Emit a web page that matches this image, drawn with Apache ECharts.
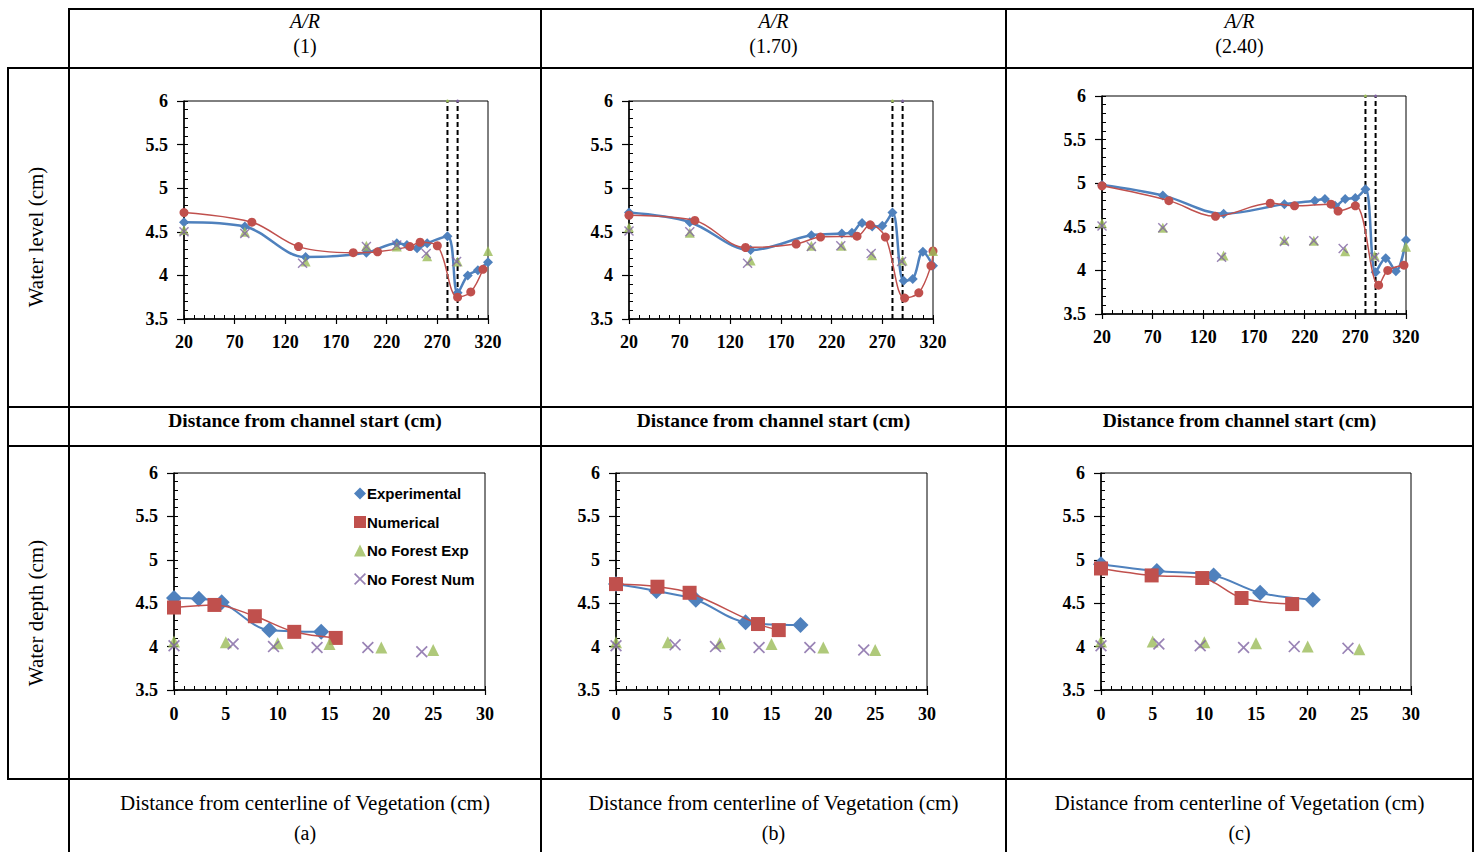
<!DOCTYPE html>
<html>
<head>
<meta charset="utf-8">
<script src="https://cdn.jsdelivr.net/npm/echarts@6/dist/echarts.min.js"></script>
<style>
  html, body { margin: 0; padding: 0; background: #fff; }
  #main { width: 1476px; height: 852px; }
</style>
</head>
<body>
<div id="main"></div>
<script>
// series names
const seriesNames = ['Experimental', 'Numerical', 'No Forest Exp', 'No Forest Num'];

// column headers
const headerTop = 'A/R';
const headerRatios = ['(1)', '(1.70)', '(2.40)'];
const panelTags = ['(a)', '(b)', '(c)'];

// vegetation edges (dashed lines) in top charts
const vegEdges = [280, 290];

// --- top row: water level vs distance from channel start ---
const expXa = [20, 80, 140, 200, 230, 240, 250, 260, 280, 290, 300, 310, 320];
const expYa = [4.61, 4.56, 4.21, 4.26, 4.37, 4.35, 4.31, 4.37, 4.45, 3.80, 4.00, 4.06, 4.15];
const numXa = [20, 87, 133, 187, 211, 243, 253, 270, 290, 303, 315];
const numYa = [4.72, 4.61, 4.33, 4.26, 4.27, 4.33, 4.38, 4.34, 3.75, 3.81, 4.07];
const nfeXa = [20, 80, 140, 200, 230, 260, 290, 320];
const nfeYa = [4.52, 4.50, 4.16, 4.34, 4.33, 4.22, 4.16, 4.28];
const nfnXa = [20, 80, 137, 200, 230, 259, 289];
const nfnYa = [4.50, 4.48, 4.14, 4.33, 4.35, 4.25, 4.16];

const expXb = [20, 80, 140, 200, 230, 240, 250, 260, 270, 280, 291, 300, 310, 320];
const expYb = [4.72, 4.61, 4.29, 4.46, 4.48, 4.49, 4.60, 4.56, 4.57, 4.72, 3.94, 3.96, 4.27, 4.11];
const numXb = [20, 85, 135, 185, 209, 245, 258, 273, 292, 306, 318, 320];
const numYb = [4.69, 4.63, 4.32, 4.36, 4.44, 4.45, 4.58, 4.44, 3.74, 3.80, 4.11, 4.28];
const nfeXb = [20, 80, 140, 200, 230, 260, 290, 320];
const nfeYb = [4.55, 4.49, 4.17, 4.34, 4.34, 4.23, 4.17, 4.28];
const nfnXb = [20, 80, 137, 200, 229, 259, 289];
const nfnYb = [4.51, 4.50, 4.14, 4.33, 4.34, 4.25, 4.16];

const expXc = [20, 80, 140, 200, 230, 240, 250, 260, 270, 280, 290, 300, 310, 320];
const expYc = [4.98, 4.86, 4.65, 4.76, 4.80, 4.82, 4.74, 4.82, 4.83, 4.93, 3.98, 4.14, 3.99, 4.35];
const numXc = [20, 86, 132, 186, 210, 246, 253, 270, 293, 302, 318];
const numYc = [4.97, 4.80, 4.62, 4.77, 4.74, 4.76, 4.68, 4.74, 3.83, 4.00, 4.06];
const nfeXc = [20, 80, 140, 200, 229, 260, 289, 320];
const nfeYc = [4.54, 4.49, 4.17, 4.35, 4.34, 4.22, 4.17, 4.27];
const nfnXc = [20, 80, 138, 200, 229, 258, 289];
const nfnYc = [4.51, 4.49, 4.15, 4.33, 4.34, 4.25, 4.15];

// --- bottom row: water depth vs distance from vegetation centerline ---
const expXd = [0, 2.4, 4.6, 9.2, 14.2];
const expYd = [4.56, 4.55, 4.51, 4.19, 4.17];
const numXd = [0, 3.9, 7.8, 11.6, 15.6];
const numYd = [4.45, 4.48, 4.35, 4.17, 4.10];
const nfeXd = [0, 5, 10, 15, 20, 25];
const nfeYd = [4.06, 4.05, 4.04, 4.03, 3.99, 3.96];
const nfnXd = [0, 5.7, 9.6, 13.8, 18.7, 23.9];
const nfnYd = [4.01, 4.03, 4.00, 3.99, 3.99, 3.94];

const expXe = [0, 3.9, 7.7, 12.5, 17.8];
const expYe = [4.72, 4.64, 4.54, 4.28, 4.25];
const numXe = [0, 4.0, 7.1, 13.7, 15.7];
const numYe = [4.72, 4.69, 4.62, 4.26, 4.19];
const nfeXe = [0, 5, 10, 15, 20, 25];
const nfeYe = [4.05, 4.05, 4.04, 4.03, 3.99, 3.96];
const nfnXe = [0, 5.7, 9.6, 13.8, 18.7, 23.9];
const nfnYe = [4.01, 4.02, 4.00, 3.99, 3.99, 3.96];

const expXf = [0, 5.4, 10.9, 15.4, 20.5];
const expYf = [4.95, 4.87, 4.82, 4.62, 4.54];
const numXf = [0, 4.9, 9.8, 13.6, 18.5];
const numYf = [4.90, 4.82, 4.79, 4.56, 4.49];
const nfeXf = [0, 5, 10, 15, 20, 25];
const nfeYf = [4.06, 4.06, 4.05, 4.04, 4.00, 3.97];
const nfnXf = [0, 5.6, 9.6, 13.8, 18.7, 23.9];
const nfnYf = [4.01, 4.03, 4.01, 3.99, 4.00, 3.98];

// ---------------------------------------------------------------
const BLUE = '#4f81bd', RED = '#c0504d', GREEN = '#9bbb59', PURPLE = '#8064a2';
const SERIF = '"Liberation Serif", "Times New Roman", serif';
const SANS = '"Liberation Sans", Arial, sans-serif';
const CROSS = 'path://M0,1L1,0L5,4L9,0L10,1L6,5L10,9L9,10L5,6L1,10L0,9L4,5Z';

const zip = (xs, ys) => xs.map((x, i) => [x, ys[i]]);

const panels = [
  { rect: [184, 101, 304, 218], top: true, d: [expXa, expYa, numXa, numYa, nfeXa, nfeYa, nfnXa, nfnYa] },
  { rect: [629, 101, 304, 218], top: true, d: [expXb, expYb, numXb, numYb, nfeXb, nfeYb, nfnXb, nfnYb] },
  { rect: [1102, 96, 304, 218], top: true, d: [expXc, expYc, numXc, numYc, nfeXc, nfeYc, nfnXc, nfnYc] },
  { rect: [174, 473, 311, 217], top: false, d: [expXd, expYd, numXd, numYd, nfeXd, nfeYd, nfnXd, nfnYd] },
  { rect: [616, 473, 311, 217], top: false, d: [expXe, expYe, numXe, numYe, nfeXe, nfeYe, nfnXe, nfnYe] },
  { rect: [1101, 473, 310, 217], top: false, d: [expXf, expYf, numXf, numYf, nfeXf, nfeYf, nfnXf, nfnYf] }
];

const grid = [], xAxis = [], yAxis = [], series = [];
const tickLabel = { color: '#000', fontFamily: SERIF, fontWeight: 'bold', fontSize: 18 };

panels.forEach((p, i) => {
  const [l, t, w, h] = p.rect;
  grid.push({ left: l, top: t, width: w, height: h, show: true, borderColor: '#000', borderWidth: 1 });
  const xMin = p.top ? 20 : 0, xMax = p.top ? 320 : 30;
  const xMaj = p.top ? 50 : 5, xMin2 = p.top ? 10 : 1;
  // major axes (labels, outside ticks)
  xAxis.push({
    type: 'value', gridIndex: i, min: xMin, max: xMax, interval: xMaj,
    axisLine: { lineStyle: { color: '#000', width: 1.5 } },
    axisTick: { length: 5, lineStyle: { color: '#000', width: 1.2 } },
    axisLabel: Object.assign({ margin: p.top ? 14 : 15 }, tickLabel),
    splitLine: { show: false }
  });
  yAxis.push({
    type: 'value', gridIndex: i, min: 3.5, max: 6, interval: 0.5,
    axisLine: { show: true, lineStyle: { color: '#000', width: 1.5 } },
    axisTick: { show: true, length: 7, lineStyle: { color: '#000', width: 1.2 } },
    axisLabel: Object.assign({ margin: 16 }, tickLabel),
    splitLine: { show: false }
  });
  // minor axes (inside ticks only)
  xAxis.push({
    type: 'value', gridIndex: i, min: xMin, max: xMax, interval: xMin2, position: 'bottom',
    axisLine: { show: false },
    axisTick: { inside: true, length: 4, lineStyle: { color: '#000', width: 1 } },
    axisLabel: { show: false }, splitLine: { show: false }
  });
  yAxis.push({
    type: 'value', gridIndex: i, min: 3.5, max: 6, interval: 0.1, position: 'left',
    axisLine: { show: false },
    axisTick: { show: true, inside: true, length: 4, lineStyle: { color: '#000', width: 1 } },
    axisLabel: { show: false }, splitLine: { show: false }
  });
  const xi = i * 2, yi = i * 2;
  const big = !p.top;
  const d = p.d;

  if (p.top) {
    const dotColors = [GREEN, PURPLE];
    vegEdges.forEach((x, k) => {
      series.push({
        type: 'line', xAxisIndex: xi, yAxisIndex: yi, silent: true, z: 1,
        data: [{ value: [x, 3.5], symbol: 'none' }, { value: [x, 6], symbol: 'circle', symbolSize: 3 }],
        itemStyle: { color: dotColors[k] },
        lineStyle: { color: '#000', width: 2, type: [5, 3] }
      });
    });
  }

  series.push({
    name: seriesNames[0], type: 'line', xAxisIndex: xi, yAxisIndex: yi, smooth: 0.35, z: 3,
    data: zip(d[0], d[1]), symbol: 'diamond', symbolSize: big ? 16 : 10,
    itemStyle: { color: BLUE }, lineStyle: { color: BLUE, width: big ? 2 : 2.5 }
  });
  series.push({
    name: seriesNames[1], type: 'line', xAxisIndex: xi, yAxisIndex: yi, smooth: 0.35, z: 4,
    data: zip(d[2], d[3]), symbol: big ? 'rect' : 'circle', symbolSize: big ? 14 : 9,
    itemStyle: { color: RED }, lineStyle: { color: RED, width: 1.5 }
  });
  series.push({
    name: seriesNames[2], type: 'scatter', xAxisIndex: xi, yAxisIndex: yi, z: 5,
    data: zip(d[4], d[5]), symbol: 'triangle', symbolSize: big ? 12 : 10,
    itemStyle: { color: GREEN }
  });
  series.push({
    name: seriesNames[3], type: 'scatter', xAxisIndex: xi, yAxisIndex: yi, z: 6,
    data: zip(d[6], d[7]), symbol: CROSS, symbolSize: big ? 12 : 10,
    itemStyle: { color: PURPLE }
  });
});

// table lines and cell texts
const graphic = [];
const hline = (y, x1, x2) => graphic.push({ type: 'line', shape: { x1: x1, y1: y, x2: x2, y2: y }, style: { stroke: '#000', lineWidth: 2 }, silent: true });
const vline = (x, y1, y2) => graphic.push({ type: 'line', shape: { x1: x, y1: y1, x2: x, y2: y2 }, style: { stroke: '#000', lineWidth: 2 }, silent: true });
hline(9, 68, 1474);
hline(68, 7, 1474);
hline(407, 7, 1474);
hline(446, 7, 1474);
hline(779, 7, 1474);
vline(8, 67, 780);
vline(69, 8, 852);
vline(541, 8, 852);
vline(1006, 8, 852);
vline(1473, 8, 852);

const text = (s, x, y, font, rot) => graphic.push({
  type: 'text', x: x, y: y, rotation: rot || 0, silent: true,
  style: { text: s, x: 0, y: 0, font: font, fill: '#000', align: 'center', verticalAlign: 'middle' }
});
const colCenters = [305, 773.5, 1239.5];
colCenters.forEach((cx, k) => {
  text(headerTop, cx, 21, 'italic 20px ' + SERIF);
  text(headerRatios[k], cx, 46, '20px ' + SERIF);
  text('Distance from channel start (cm)', cx, 420, 'bold 19.5px ' + SERIF);
  text('Distance from centerline of Vegetation (cm)', cx, 803, '21px ' + SERIF);
  text(panelTags[k], cx, 833, '20px ' + SERIF);
});
text('Water level (cm)', 36, 237, '21px ' + SERIF, Math.PI / 2);
text('Water depth (cm)', 36, 613, '21px ' + SERIF, Math.PI / 2);

const chart = echarts.init(document.getElementById('main'), null, { renderer: 'svg' });
chart.setOption({
  animation: false,
  backgroundColor: '#fff',
  grid: grid,
  xAxis: xAxis,
  yAxis: yAxis,
  legend: {
    orient: 'vertical', left: 349, top: 481, itemGap: 13.5,
    itemWidth: 12, itemHeight: 12, selectedMode: false,
    textStyle: { color: '#000', fontFamily: SANS, fontWeight: 'bold', fontSize: 15, padding: [0, 0, 0, -4] },
    data: [
      { name: seriesNames[0], icon: 'diamond' },
      { name: seriesNames[1], icon: 'rect' },
      { name: seriesNames[2], icon: 'triangle' },
      { name: seriesNames[3], icon: CROSS }
    ]
  },
  graphic: graphic,
  series: series
});
</script>
</body>
</html>
